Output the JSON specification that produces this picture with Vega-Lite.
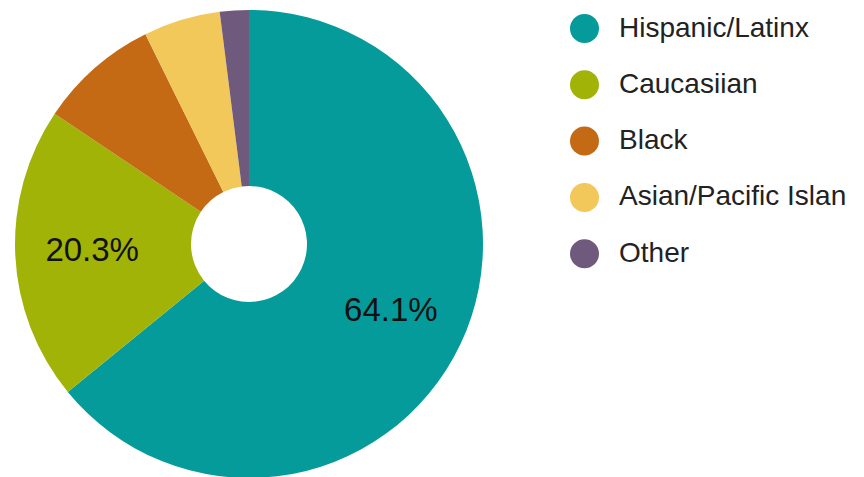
{
  "$schema": "https://vega.github.io/schema/vega-lite/v6.json",
  "width": 498,
  "height": 488,
  "padding": 0,
  "background": "white",
  "config": {"view": {"stroke": null}, "font": "Liberation Sans"},
  "data": {
    "values": [
      {"group": "Hispanic/Latinx", "share": 0.641, "rank": 1},
      {"group": "Caucasiian", "share": 0.203, "rank": 2},
      {"group": "Black", "share": 0.083, "rank": 3},
      {"group": "Asian/Pacific Islander", "share": 0.053, "rank": 4},
      {"group": "Other", "share": 0.020, "rank": 5}
    ]
  },
  "encoding": {
    "theta": {"field": "share", "type": "quantitative", "stack": true},
    "order": {"field": "rank", "type": "ordinal"},
    "color": {
      "field": "group",
      "type": "nominal",
      "scale": {
        "domain": ["Hispanic/Latinx", "Caucasiian", "Black", "Asian/Pacific Islander", "Other"],
        "range": ["#069b9b", "#a2b308", "#c46a14", "#f2c85b", "#6f5a7e"]
      },
      "legend": {
        "title": null,
        "orient": "none",
        "legendX": 570,
        "legendY": 14,
        "padding": 0,
        "symbolType": "circle",
        "symbolSize": 841,
        "symbolStrokeWidth": 0,
        "symbolOpacity": 1,
        "labelFontSize": 28,
        "labelFont": "Liberation Sans",
        "labelColor": "#222222",
        "labelOffset": 20,
        "labelLimit": 400,
        "rowPadding": 27.3,
        "labelExpr": "datum.label == 'Asian/Pacific Islander' ? 'Asian/Pacific Islan' : datum.label"
      }
    }
  },
  "layer": [
    {
      "mark": {"type": "arc", "outerRadius": 234, "innerRadius": 58, "stroke": null}
    },
    {
      "mark": {"type": "text", "radius": 157, "fontSize": 33, "font": "Liberation Sans", "align": "center", "baseline": "middle"},
      "encoding": {
        "color": {"value": "#111111"},
        "text": {
          "condition": {"test": "datum.share > 0.15", "field": "share", "type": "quantitative", "format": ".1%"},
          "value": ""
        }
      }
    }
  ]
}
